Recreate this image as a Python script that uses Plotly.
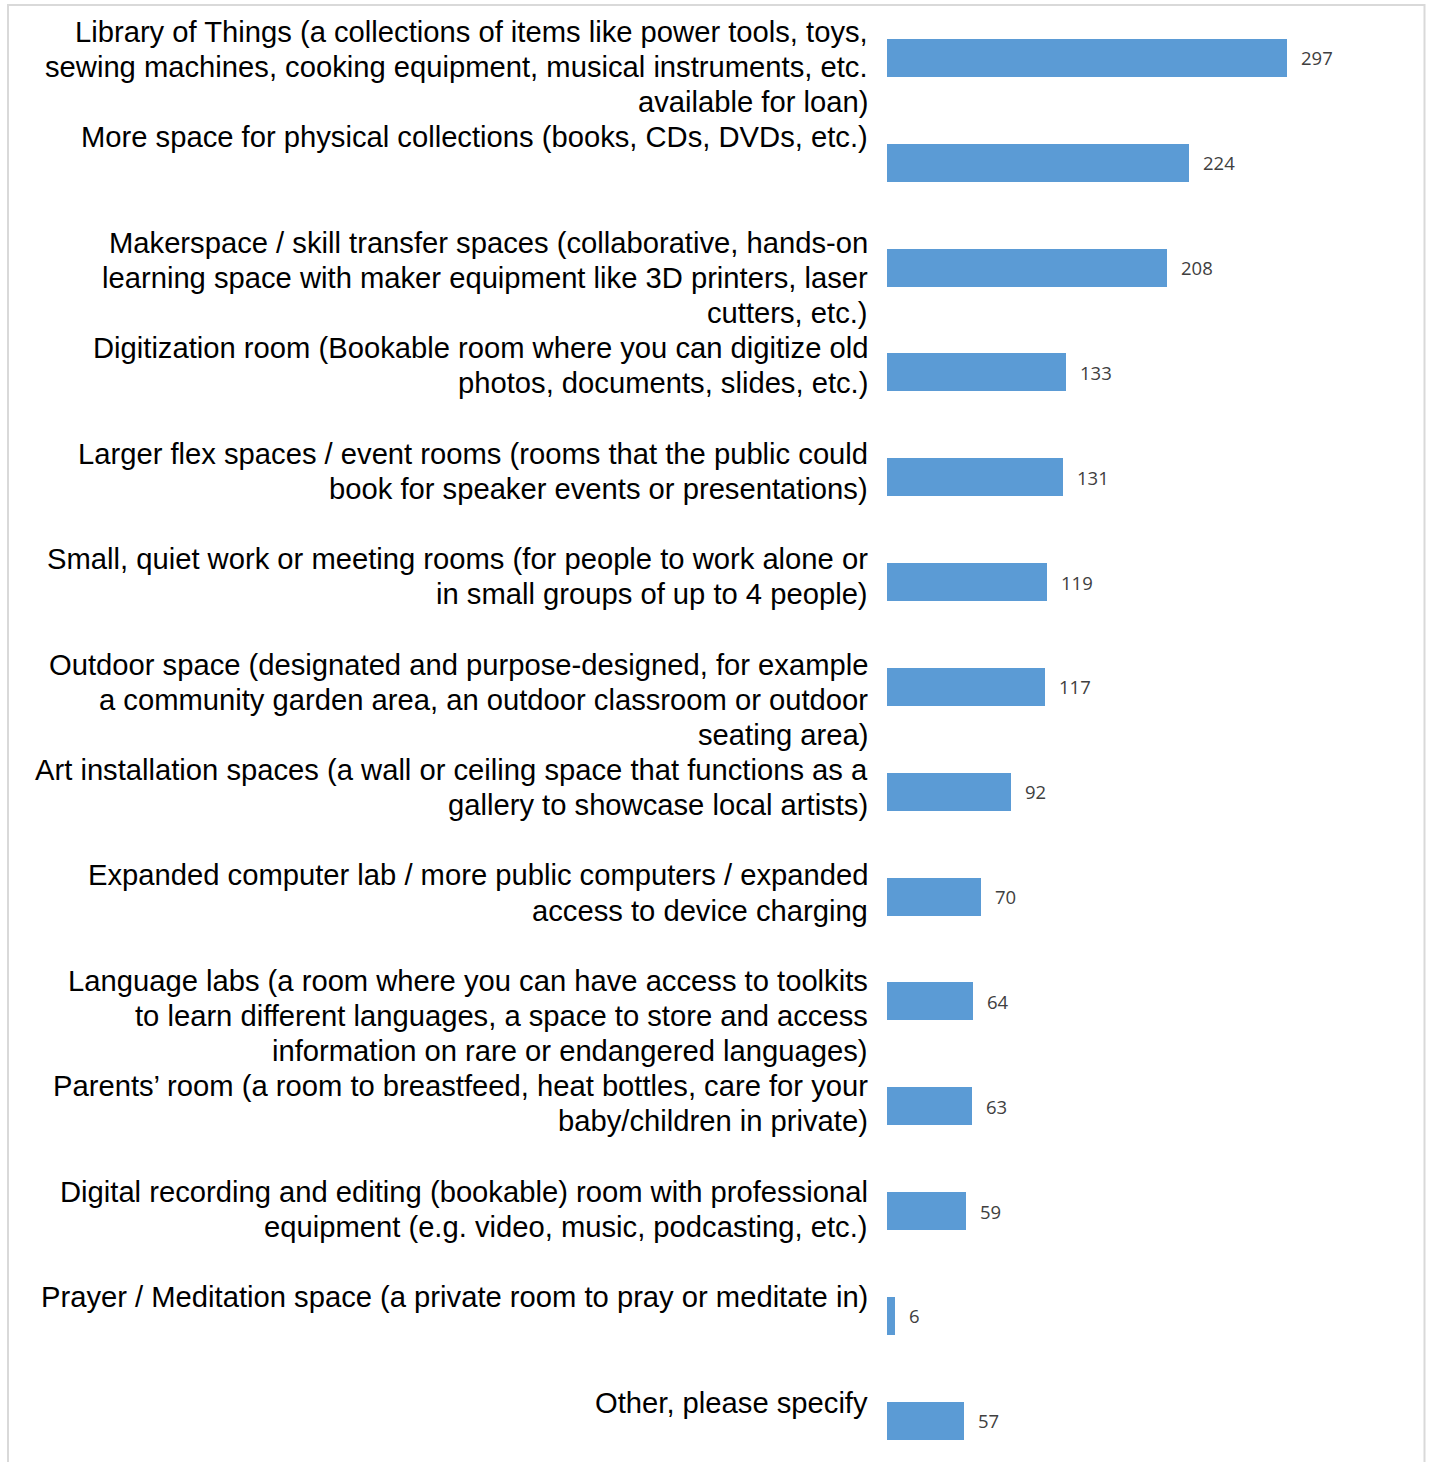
import plotly.graph_objects as go

categories = [
    "Library of Things (a collections of items like power tools, toys,<br>sewing machines, cooking equipment, musical instruments, etc.<br>available for loan)",
    "More space for physical collections (books, CDs, DVDs, etc.)",
    "Makerspace / skill transfer spaces (collaborative, hands-on<br>learning space with maker equipment like 3D printers, laser<br>cutters, etc.)",
    "Digitization room (Bookable room where you can digitize old<br>photos, documents, slides, etc.)",
    "Larger flex spaces / event rooms (rooms that the public could<br>book for speaker events or presentations)",
    "Small, quiet work or meeting rooms (for people to work alone or<br>in small groups of up to 4 people)",
    "Outdoor space (designated and purpose-designed, for example<br>a community garden area, an outdoor classroom or outdoor<br>seating area)",
    "Art installation spaces (a wall or ceiling space that functions as a<br>gallery to showcase local artists)",
    "Expanded computer lab / more public computers / expanded<br>access to device charging",
    "Language labs (a room where you can have access to toolkits<br>to learn different languages, a space to store and access<br>information on rare or endangered languages)",
    "Parents’ room (a room to breastfeed, heat bottles, care for your<br>baby/children in private)",
    "Digital recording and editing (bookable) room with professional<br>equipment (e.g. video, music, podcasting, etc.)",
    "Prayer / Meditation space (a private room to pray or meditate in)",
    "Other, please specify",
]
values = [297, 224, 208, 133, 131, 119, 117, 92, 70, 64, 63, 59, 6, 57]

positions = list(range(len(categories)))

W, H = 1429, 1462
ML, MR = 887, 29
plot_w = W - ML - MR
LINE_H = 35.2

fig = go.Figure()
fig.add_trace(go.Bar(
    x=values, y=positions, orientation="h",
    marker=dict(color="#5B9BD5", line=dict(width=0)),
    width=0.362, hoverinfo="skip",
))

annotations = []
for i, (cat, v) in enumerate(zip(categories, values)):
    first = 26 - 0.6 * i
    for k, line in enumerate(cat.split("<br>")):
        annotations.append(dict(
            x=0, xref="paper", y=i, yref="y",
            xanchor="right", yanchor="middle", align="right",
            xshift=-17, yshift=first - k * LINE_H,
            text=line, showarrow=False,
            font=dict(family="Liberation Sans, Arial, sans-serif", size=29.2, color="#000000"),
        ))
    annotations.append(dict(
        x=v, xref="x", y=i, yref="y",
        xanchor="left", yanchor="middle",
        xshift=12, yshift=0,
        text=str(v), showarrow=False,
        font=dict(family="Open Sans, sans-serif", size=18.5, color="#404040"),
    ))

fig.update_layout(
    width=W, height=H,
    margin=dict(l=ML, r=MR, t=0, b=0),
    paper_bgcolor="white", plot_bgcolor="white",
    showlegend=False,
    bargap=0,
    xaxis=dict(range=[0, 381], showticklabels=False, showgrid=False,
               zeroline=False, showline=False, fixedrange=True),
    yaxis=dict(range=[13.393, -0.5523], showticklabels=False, showgrid=False,
               zeroline=False, showline=False, fixedrange=True),
    annotations=annotations,
    shapes=[dict(
        type="rect", xref="paper", yref="paper",
        x0=(8 - ML) / plot_w, x1=(1424.5 - ML) / plot_w,
        y0=-0.05, y1=1 - 5 / H,
        line=dict(color="#d9d9d9", width=2), fillcolor="rgba(0,0,0,0)",
        layer="below",
    )],
)

fig.write_html("out.html", config={"displayModeBar": False},
               post_script="document.body.style.margin='0';")
